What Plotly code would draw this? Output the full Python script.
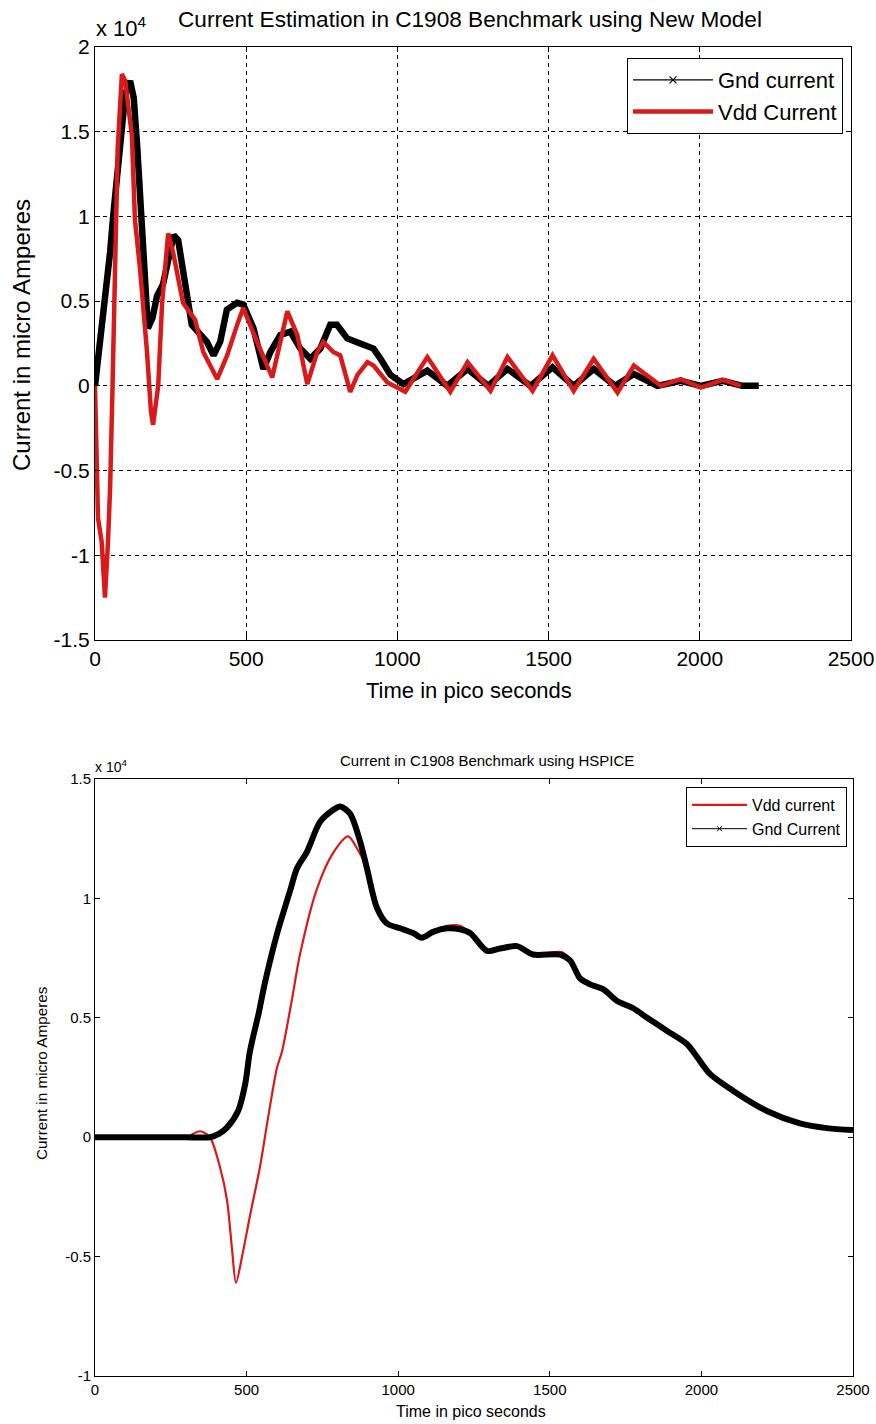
import plotly.graph_objects as go

# ---------------- Data (micro-Amperes vs pico seconds) ----------------
# Top chart: New Model
nm_gnd_t = [0, 8, 17, 33, 50, 60, 83, 100, 116, 128, 140, 150, 158, 166, 175, 190, 205, 225, 245, 260,
            275, 290, 305, 320, 345, 370, 392, 414, 436, 470, 490, 524, 557, 580, 613, 646, 679, 712, 745, 778,
            800, 834, 877, 921, 944, 977, 1020, 1053, 1099, 1165, 1232, 1300, 1364, 1440, 1513, 1583, 1649, 1720, 1782, 1860,
            1937, 2003, 2076, 2140, 2195]
nm_gnd = [0, 1200, 2600, 4900, 7900, 10000, 14700, 17200, 18000, 17000, 14000, 10500, 7700, 4800, 3400, 4000, 5300, 6000, 7500, 8900,
          8600, 6900, 4900, 3600, 3100, 2600, 1800, 2600, 4500, 4900, 4800, 3400, 1000, 2000, 3000, 3200, 2200, 1600, 2200, 3600,
          3600, 2800, 2500, 2200, 1600, 650, 100, 400, 900, 0, 1000, 0, 1000, 0, 1100, 0, 1000, 0, 700, 0,
          300, 0, 300, 0, 0]

nm_vdd_t = [0, 6, 10, 22, 33, 43, 50, 58, 66, 75, 89, 100, 110, 122, 132, 149, 172, 185, 192, 200,
            209, 222, 242, 258, 291, 331, 358, 404, 437, 470, 490, 536, 586, 613, 636, 669, 702, 735, 755, 788,
            811, 844, 868, 901, 921, 967, 1026, 1099, 1175, 1232, 1308, 1364, 1447, 1513, 1583, 1649, 1728, 1782, 1871, 1937,
            2003, 2076, 2136]
nm_vdd = [0, -3500, -7800, -9200, -12500, -9200, -6000, 0, 8000, 14000, 18400, 18000, 16500, 14800, 9800, 6900, 2000, -1500, -2300, -1200,
          0, 4900, 9000, 7900, 4900, 3900, 2000, 400, 1800, 3600, 4600, 2600, 500, 2600, 4400, 3000, 100, 2000, 2600, 2000,
          1800, -350, 650, 1400, 1200, 200, -350, 1700, -350, 1400, -300, 1700, -300, 1800, -300, 1600, -400, 1200, 0, 400,
          -100, 350, 0]

# Bottom chart: HSPICE
hs_vdd_t = [0, 100, 200, 300, 346, 379, 412, 435, 452, 465, 485, 511, 544, 571, 600, 617, 650, 676, 732, 785,
            835, 864, 897, 930, 963, 1006, 1049, 1078, 1115, 1161, 1204, 1237, 1293, 1336, 1392, 1445, 1540, 1567, 1600, 1633,
            1676, 1722, 1775, 1821, 1887, 1952, 1986, 2028, 2104, 2216, 2325, 2414, 2500]
hs_vdd = [0, 0, 0, 0, 250, 0, -1250, -2600, -4700, -6100, -5000, -3300, -1250, 830, 2900, 3600, 5800, 7650, 10400, 11900,
          12600, 12100, 11250, 9600, 8950, 8750, 8550, 8350, 8650, 8850, 8850, 8550, 7800, 7900, 8000, 7650, 7750, 7400, 6650, 6400,
          6200, 5700, 5400, 5000, 4450, 3900, 3350, 2650, 1950, 1100, 580, 380, 300]

hs_gnd_t = [0, 100, 200, 300, 379, 410, 435, 472, 495, 511, 540, 561, 600, 643, 666, 699, 742, 785, 808, 841,
            874, 897, 930, 963, 1006, 1049, 1078, 1115, 1161, 1204, 1237, 1293, 1336, 1392, 1445, 1534, 1567, 1600, 1633, 1676,
            1722, 1775, 1821, 1887, 1952, 1986, 2028, 2104, 2216, 2325, 2414, 2500]
hs_gnd = [0, 0, 0, 0, 0, 150, 400, 1100, 2200, 3600, 5200, 6500, 8500, 10300, 11250, 11950, 13200, 13700, 13850, 13550,
          12400, 11250, 9600, 8950, 8750, 8550, 8350, 8600, 8750, 8700, 8550, 7800, 7900, 8000, 7650, 7650, 7400, 6650, 6400, 6200,
          5700, 5400, 5000, 4450, 3900, 3350, 2650, 1950, 1100, 580, 380, 300]

# Tick labels
x_ticks = [0, 500, 1000, 1500, 2000, 2500]
x_ticktext = ["0", "500", "1000", "1500", "2000", "2500"]
top_y_ticks = [-15000, -10000, -5000, 0, 5000, 10000, 15000, 20000]
top_y_ticktext = ["-1.5", "-1", "-0.5", "0", "0.5", "1", "1.5", "2"]
bot_y_ticks = [-10000, -5000, 0, 5000, 10000, 15000]
bot_y_ticktext = ["-1", "-0.5", "0", "0.5", "1", "1.5"]

W, H = 876, 1424
FONT = "Liberation Sans, Arial, Helvetica, sans-serif"
RED = "rgb(216,26,26)"

def px(x):
    return x / W

def py(y):
    return 1 - y / H

fig = go.Figure()

# ---- top chart traces ----
fig.add_trace(go.Scatter(x=nm_gnd_t, y=nm_gnd, mode="lines", line=dict(color="black", width=6.5),
                         showlegend=False, xaxis="x", yaxis="y"))
fig.add_trace(go.Scatter(x=nm_vdd_t, y=nm_vdd, mode="lines", name="Vdd Current",
                         line=dict(color=RED, width=4.5), legend="legend", legendrank=2,
                         xaxis="x", yaxis="y"))
fig.add_trace(go.Scatter(x=[None], y=[None], mode="lines+markers", name="Gnd current",
                         line=dict(color="black", width=1.2),
                         marker=dict(symbol="x-thin", size=7, line=dict(color="black", width=1.2)),
                         legend="legend", legendrank=1, xaxis="x", yaxis="y"))

# ---- bottom chart traces ----
fig.add_trace(go.Scatter(x=hs_vdd_t, y=hs_vdd, mode="lines", name="Vdd current",
                         line=dict(color=RED, width=2.2, shape="spline", smoothing=0.8),
                         legend="legend2", legendrank=1, xaxis="x2", yaxis="y2"))
fig.add_trace(go.Scatter(x=hs_gnd_t, y=hs_gnd, mode="lines", line=dict(color="black", width=6, shape="spline", smoothing=0.8),
                         showlegend=False, xaxis="x2", yaxis="y2"))
fig.add_trace(go.Scatter(x=[None], y=[None], mode="lines+markers", name="Gnd Current",
                         line=dict(color="black", width=1),
                         marker=dict(symbol="x-thin", size=5, line=dict(color="black", width=1)),
                         legend="legend2", legendrank=2, xaxis="x2", yaxis="y2"))

common_axis = dict(showline=True, linecolor="black", linewidth=1, mirror="ticks",
                   ticks="inside", ticklen=5, tickcolor="black", zeroline=False, automargin=False)

fig.update_layout(
    width=W, height=H,
    margin=dict(l=0, r=0, t=0, b=0, pad=0, autoexpand=False),
    paper_bgcolor="white", plot_bgcolor="white",
    font=dict(family=FONT, color="black"),
    hovermode=False,
    xaxis=dict(domain=[px(95), px(851)], anchor="y", range=[0, 2500],
               tickvals=x_ticks, ticktext=x_ticktext, tickfont=dict(size=21),
               showgrid=True, gridcolor="black", gridwidth=1, griddash="4px,4px", **common_axis),
    yaxis=dict(domain=[py(640), py(47)], anchor="x", range=[-15000, 20000],
               tickvals=top_y_ticks, ticktext=top_y_ticktext, tickfont=dict(size=21),
               showgrid=True, gridcolor="black", gridwidth=1, griddash="4px,4px", **common_axis),
    xaxis2=dict(domain=[px(95), px(853)], anchor="y2", range=[0, 2500],
                tickvals=x_ticks, ticktext=x_ticktext, tickfont=dict(size=15),
                showgrid=False, **common_axis),
    yaxis2=dict(domain=[py(1376), py(779)], anchor="x2", range=[-10000, 15000],
                tickvals=bot_y_ticks, ticktext=bot_y_ticktext, tickfont=dict(size=15),
                showgrid=False, **common_axis),
    legend=dict(x=px(843), y=py(58), xanchor="right", yanchor="top",
                bgcolor="white", bordercolor="black", borderwidth=1,
                font=dict(size=22), itemwidth=80, tracegroupgap=0),
    legend2=dict(x=px(847), y=py(787), xanchor="right", yanchor="top",
                 bgcolor="white", bordercolor="black", borderwidth=1,
                 font=dict(size=16), itemwidth=55, tracegroupgap=0),
    annotations=[
        dict(text="Current Estimation in C1908 Benchmark using New Model", x=px(470), y=py(20),
             xref="paper", yref="paper", showarrow=False, font=dict(size=22.6), xanchor="center", yanchor="middle"),
        dict(text="x 10<sup>4</sup>", x=px(94), y=py(27), xref="paper", yref="paper", showarrow=False,
             font=dict(size=22), xanchor="left", yanchor="middle"),
        dict(text="Time in pico seconds", x=px(469), y=py(690), xref="paper", yref="paper", showarrow=False,
             font=dict(size=22), xanchor="center", yanchor="middle"),
        dict(text="Current in micro Amperes", x=px(22), y=py(335), xref="paper", yref="paper", showarrow=False,
             font=dict(size=24), textangle=-90, xanchor="center", yanchor="middle"),
        dict(text="Current in C1908 Benchmark using HSPICE", x=px(487), y=py(760), xref="paper", yref="paper",
             showarrow=False, font=dict(size=15), xanchor="center", yanchor="middle"),
        dict(text="x 10<sup>4</sup>", x=px(93), y=py(766), xref="paper", yref="paper", showarrow=False,
             font=dict(size=14), xanchor="left", yanchor="middle"),
        dict(text="Time in pico seconds", x=px(471), y=py(1411), xref="paper", yref="paper", showarrow=False,
             font=dict(size=16), xanchor="center", yanchor="middle"),
        dict(text="Current in micro Amperes", x=px(41), y=py(1073), xref="paper", yref="paper", showarrow=False,
             font=dict(size=15.3), textangle=-90, xanchor="center", yanchor="middle"),
    ],
)

# remove the default page margin so the 876x1424 figure fills the window exactly
fig.write_html("out.html",
               config={"displayModeBar": False, "staticPlot": True},
               post_script="document.body.style.margin='0';document.body.style.overflow='hidden';")
